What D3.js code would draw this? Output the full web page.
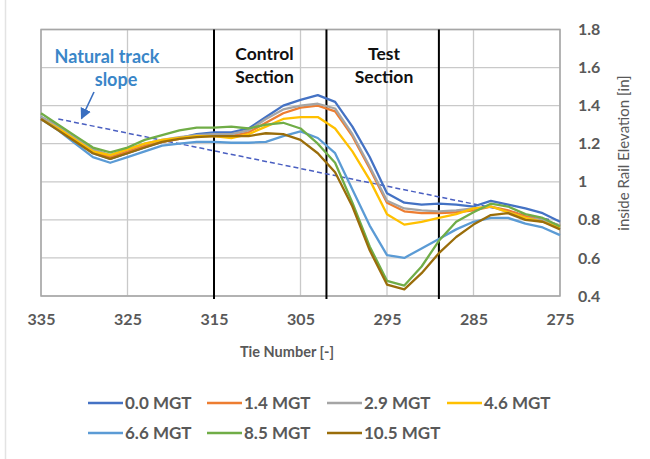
<!DOCTYPE html>
<html>
<head>
<meta charset="utf-8">
<script src="https://cdn.jsdelivr.net/npm/d3@7"></script>
<style>
  html, body { margin: 0; padding: 0; background: #fff; }
  svg { display: block; }
  text { font-family: Lato, "Open Sans", sans-serif; }
</style>
</head>
<body>
<svg id="chart" width="650" height="459"></svg>
<script>
// ---------- DATA ----------
const ties = [335,333,331,329,327,325,323,321,319,317,315,313,311,309,307,305,303,301,299,297,295,293,291,289,287,285,283,281,279,277,275];

const seriesNames = ["0.0 MGT","1.4 MGT","2.9 MGT","4.6 MGT","6.6 MGT","8.5 MGT","10.5 MGT"];
const seriesColors = ["#4472c4","#ed7d31","#a5a5a5","#ffc000","#5b9bd5","#70ad47","#9a6d0a"];

const mgt00 = [1.34,1.29,1.22,1.15,1.12,1.15,1.18,1.21,1.23,1.25,1.26,1.26,1.28,1.34,1.40,1.43,1.455,1.42,1.29,1.13,0.94,0.89,0.88,0.885,0.88,0.87,0.90,0.88,0.86,0.835,0.79];
const mgt14 = [1.33,1.28,1.22,1.16,1.13,1.16,1.19,1.21,1.225,1.24,1.24,1.24,1.26,1.31,1.36,1.39,1.40,1.37,1.24,1.07,0.89,0.845,0.835,0.835,0.84,0.85,0.87,0.85,0.82,0.80,0.77];
const mgt29 = [1.34,1.29,1.23,1.17,1.14,1.17,1.20,1.22,1.235,1.245,1.25,1.25,1.27,1.33,1.38,1.40,1.41,1.385,1.25,1.08,0.90,0.86,0.85,0.845,0.85,0.86,0.87,0.84,0.81,0.80,0.77];
const mgt46 = [1.33,1.28,1.22,1.16,1.14,1.17,1.20,1.22,1.23,1.24,1.24,1.23,1.25,1.29,1.33,1.34,1.34,1.28,1.16,1.01,0.83,0.775,0.79,0.81,0.83,0.86,0.87,0.84,0.81,0.79,0.76];
const mgt66 = [1.33,1.27,1.20,1.13,1.10,1.13,1.16,1.19,1.20,1.21,1.21,1.205,1.205,1.21,1.24,1.265,1.23,1.15,0.96,0.77,0.615,0.60,0.65,0.70,0.75,0.79,0.81,0.81,0.78,0.76,0.72];
const mgt85 = [1.36,1.30,1.24,1.18,1.155,1.18,1.22,1.245,1.27,1.285,1.285,1.29,1.28,1.30,1.31,1.28,1.20,1.10,0.89,0.66,0.48,0.455,0.555,0.69,0.79,0.84,0.885,0.87,0.83,0.81,0.765];
const mgt105 = [1.33,1.27,1.21,1.15,1.12,1.15,1.18,1.21,1.225,1.235,1.24,1.24,1.24,1.255,1.25,1.22,1.15,1.05,0.87,0.64,0.46,0.435,0.52,0.625,0.71,0.775,0.825,0.835,0.80,0.79,0.75];

const seriesValues = [mgt00, mgt14, mgt29, mgt46, mgt66, mgt85, mgt105];

// natural track slope (dashed) endpoints
const slopeTies = [333, 276];
const slopeValues = [1.33, 0.80];

// section boundaries
const sectionTies = [315, 302, 289];

const xTicks = [335,325,315,305,295,285,275];
const yTicks = [0.4,0.6,0.8,1.0,1.2,1.4,1.6,1.8];

// ---------- LAYOUT ----------
const svg = d3.select("#chart");
const pL = 41, pR = 560, pT = 29.5, pB = 296;

const x = d3.scaleLinear().domain([335, 275]).range([pL, pR]);
const y = d3.scaleLinear().domain([0.4, 1.8]).range([pB, pT]);

// outer frame hint
svg.append("line").attr("x1", 5.5).attr("x2", 5.5).attr("y1", 0).attr("y2", 459)
  .attr("stroke", "#e3e3e3").attr("stroke-width", 1.5);

// gridlines
const grid = svg.append("g");
grid.selectAll("line.h").data(yTicks).enter().append("line")
  .attr("x1", pL).attr("x2", pR)
  .attr("y1", d => y(d)).attr("y2", d => y(d))
  .attr("stroke", "#c9c9c9").attr("stroke-width", 1.3);
grid.selectAll("line.v").data(xTicks).enter().append("line")
  .attr("x1", d => x(d)).attr("x2", d => x(d))
  .attr("y1", pT).attr("y2", pB)
  .attr("stroke", "#c9c9c9").attr("stroke-width", 1.3);

// plot border
svg.append("rect").attr("x", pL).attr("y", pT)
  .attr("width", pR - pL).attr("height", pB - pT)
  .attr("fill", "none").attr("stroke", "#a6a6a6").attr("stroke-width", 1.5);

// section lines
svg.selectAll("line.sec").data(sectionTies).enter().append("line")
  .attr("x1", d => x(d)).attr("x2", d => x(d))
  .attr("y1", pT).attr("y2", pB + 3)
  .attr("stroke", "#000").attr("stroke-width", 2);

// natural slope dashed line
svg.append("line")
  .attr("x1", x(slopeTies[0])).attr("y1", y(slopeValues[0]))
  .attr("x2", x(slopeTies[1])).attr("y2", y(slopeValues[1]))
  .attr("stroke", "#4a5fc1").attr("stroke-width", 1.5)
  .attr("stroke-dasharray", "5,3");

// series lines
const line = d3.line().x((d, i) => x(ties[i])).y(d => y(d));
svg.append("g").selectAll("path").data(seriesValues).enter().append("path")
  .attr("d", d => line(d))
  .attr("fill", "none")
  .attr("stroke", (d, i) => seriesColors[i])
  .attr("stroke-width", 2.3)
  .attr("stroke-linejoin", "round");

// x axis labels
const xAxis = d3.axisBottom(x).tickValues(xTicks).tickSize(0).tickPadding(0);
const gx = svg.append("g").attr("transform", `translate(0,${pB + 18})`).call(xAxis);
gx.select(".domain").remove();
gx.selectAll("text").attr("font-size", 16).attr("font-weight", 700)
  .attr("fill", "#595959").attr("font-family", "Lato, sans-serif");

// y axis labels (right side)
const yAxis = d3.axisRight(y).tickValues(yTicks).tickSize(0).tickPadding(0)
  .tickFormat(d => d === 1 ? "1" : d3.format(".1f")(d));
const gy = svg.append("g").attr("transform", `translate(578,0)`).call(yAxis);
gy.select(".domain").remove();
gy.selectAll("text").attr("font-size", 16).attr("font-weight", 700)
  .attr("fill", "#595959").attr("font-family", "Lato, sans-serif");

// axis titles
svg.append("text").attr("x", 287).attr("y", 357).attr("text-anchor", "middle")
  .attr("font-size", 14.5).attr("font-weight", 700).attr("fill", "#595959")
  .text("Tie Number [-]");
svg.append("text").attr("transform", "translate(629,153) rotate(-90)")
  .attr("text-anchor", "middle").attr("font-size", 15).attr("fill", "#595959")
  .text("inside Rail Elevation [in]");

// annotations
const ann = svg.append("g").attr("font-weight", 700).attr("text-anchor", "middle");
ann.append("text").attr("x", 107).attr("y", 63).attr("font-size", 18).attr("fill", "#3a86c8").text("Natural track");
ann.append("text").attr("x", 116).attr("y", 86).attr("font-size", 18).attr("fill", "#3a86c8").text("slope");
ann.append("text").attr("x", 264.5).attr("y", 60).attr("font-size", 17.5).attr("fill", "#111").text("Control");
ann.append("text").attr("x", 264.5).attr("y", 83).attr("font-size", 17.5).attr("fill", "#111").text("Section");
ann.append("text").attr("x", 384).attr("y", 60).attr("font-size", 17.5).attr("fill", "#111").text("Test");
ann.append("text").attr("x", 384).attr("y", 83).attr("font-size", 17.5).attr("fill", "#111").text("Section");

// arrow
svg.append("defs").append("marker").attr("id", "arr")
  .attr("viewBox", "0 0 10 10").attr("refX", 9).attr("refY", 5)
  .attr("markerWidth", 7).attr("markerHeight", 7).attr("orient", "auto")
  .append("path").attr("d", "M0,0 L10,5 L0,10 z").attr("fill", "#3a6fc0");
svg.append("line").attr("x1", 94).attr("y1", 92).attr("x2", 81.5).attr("y2", 118.5)
  .attr("stroke", "#3a6fc0").attr("stroke-width", 1.6).attr("marker-end", "url(#arr)");

// legend
const legendX = [88, 207, 327, 447];
const legendY = [403, 433];
const leg = svg.append("g");
seriesNames.forEach((name, i) => {
  const lx = legendX[i % 4], ly = legendY[Math.floor(i / 4)];
  leg.append("line").attr("x1", lx).attr("x2", lx + 35).attr("y1", ly).attr("y2", ly)
    .attr("stroke", seriesColors[i]).attr("stroke-width", 2.5);
  leg.append("text").attr("x", lx + 37).attr("y", ly).attr("dy", "0.36em")
    .attr("font-size", 17).attr("font-weight", 700).attr("fill", "#595959").text(name);
});
</script>
</body>
</html>
